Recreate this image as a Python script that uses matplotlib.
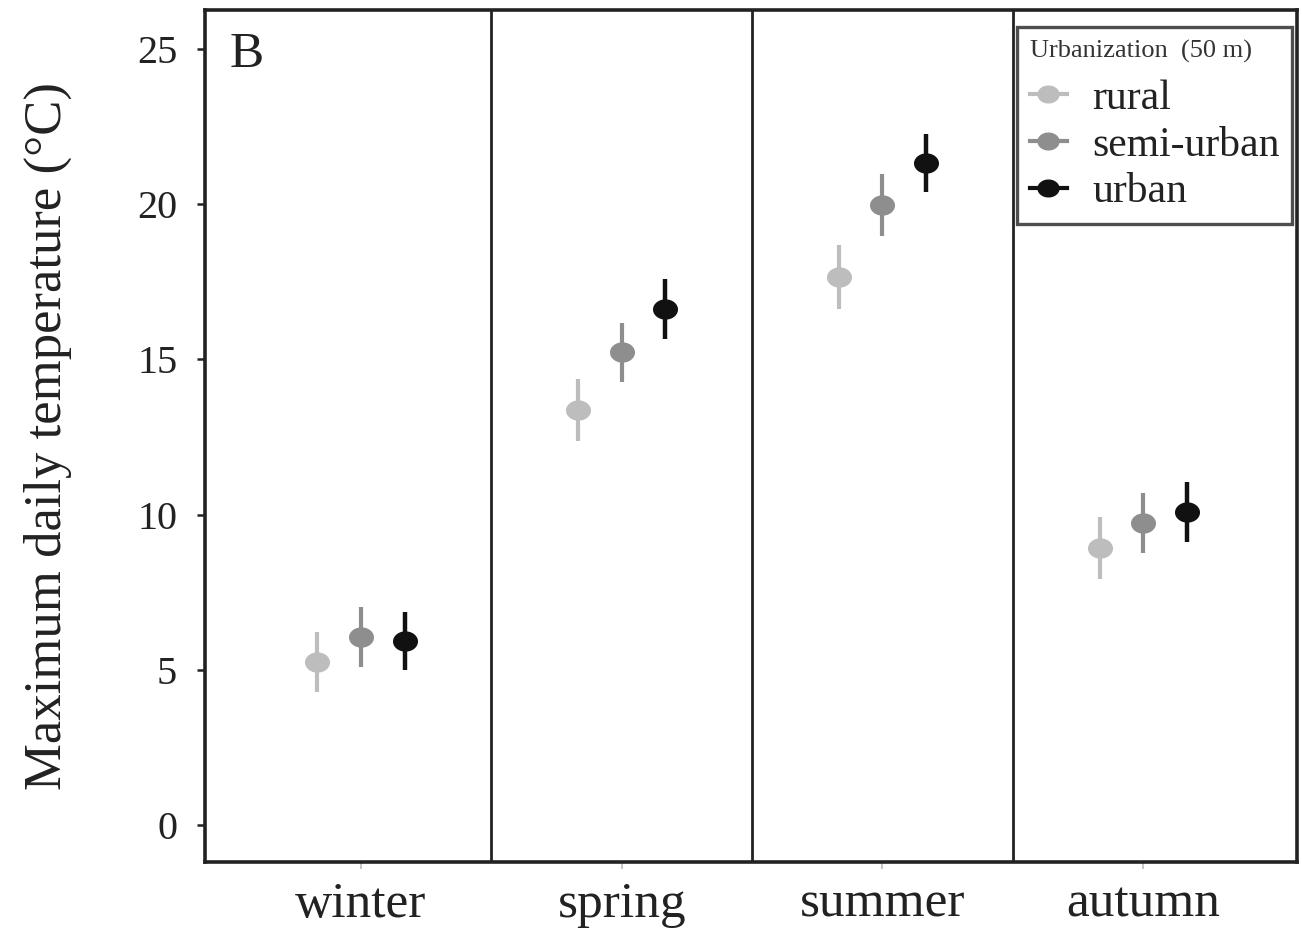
import matplotlib
matplotlib.use('Agg')
import numpy as np
import matplotlib.pyplot as plt
from matplotlib.path import Path
from matplotlib.lines import Line2D

plt.rcParams['font.family'] = ['Liberation Serif', 'DejaVu Serif']

# ── Data ──────────────────────────────────────────────────────────────────────
seasons = ["winter", "spring", "summer", "autumn"]
groups = ["rural", "semi-urban", "urban"]
rural = [5.25, 13.37, 17.65, 8.92]
semi = [6.06, 15.24, 19.97, 9.73]
urban = [5.93, 16.62, 21.33, 10.08]
rural_err = [0.97, 1.0, 1.03, 1.0]
semi_err = [0.97, 0.95, 1.0, 0.97]
urban_err = [0.93, 0.97, 0.93, 0.97]
yticks = [0, 5, 10, 15, 20, 25]

COLORS = ['#bdbdbd', '#8e8e8e', '#111111']
BAR_LW = [3.0, 3.0, 3.2]

# slightly wide elliptical marker
t = np.linspace(0, 2 * np.pi, 60)
ell = Path(np.column_stack([1.25 * np.cos(t), np.sin(t)]), closed=True)

fig = plt.figure(figsize=(13.02, 9.33), dpi=100)
ax = fig.add_axes([0.1575, 0.0761, 0.8387, 0.9132])

x = np.arange(1, len(seasons) + 1)
offs = [-0.167, 0.0, 0.167]
series = [(rural, rural_err), (semi, semi_err), (urban, urban_err)]
for k, (vals, err) in enumerate(series):
    ax.errorbar(x + offs[k], vals, yerr=err, fmt='none', ecolor=COLORS[k],
                elinewidth=BAR_LW[k], capsize=0, zorder=2)
    ax.plot(x + offs[k], vals, ls='none', marker=ell, ms=17,
            color=COLORS[k], mec=COLORS[k], zorder=3)

for sep in [1.5, 2.5, 3.5]:
    ax.axvline(sep, color='#222222', lw=2.0, zorder=1)

ax.set_xlim(0.402, 4.59)
ax.set_ylim(-1.19, 26.26)
ax.set_xticks(x)
ax.set_xticklabels(seasons, fontsize=37)
ax.set_yticks(yticks)
ax.set_yticklabels([str(v) for v in yticks], fontsize=29)
ax.tick_params(axis='x', length=5, width=1.2, color='#bbbbbb', pad=9,
               labelcolor='#222222')
ax.tick_params(axis='y', length=6, width=1.8, color='#222222', pad=14,
               labelcolor='#222222')
for sp in ax.spines.values():
    sp.set_linewidth(2.6)
    sp.set_edgecolor('#222222')

ax.set_ylabel("Maximum daily temperature (°C)", fontsize=38, color='#222222',
              labelpad=47)
ax.text(0.022, 0.975, "B", transform=ax.transAxes, fontsize=37,
        va='top', ha='left', color='#222222')

handles = [Line2D([], [], color=c, lw=3, marker=ell, ms=15) for c in COLORS]
leg = ax.legend(handles, groups, title="Urbanization  (50 m)", loc='upper right',
                bbox_to_anchor=(0.9954, 0.980), borderaxespad=0,
                fontsize=30, title_fontsize=19,
                frameon=True, fancybox=False, edgecolor='#222222',
                handlelength=0.9, handletextpad=0.6, labelspacing=0.2,
                borderpad=0.3, alignment='left')
leg._legend_box.sep = 12
leg.get_frame().set_linewidth(2.4)
leg.get_title().set_color('#333333')
for txt in leg.get_texts():
    txt.set_color('#222222')

fig.savefig('out.png', dpi=100, facecolor='white')
